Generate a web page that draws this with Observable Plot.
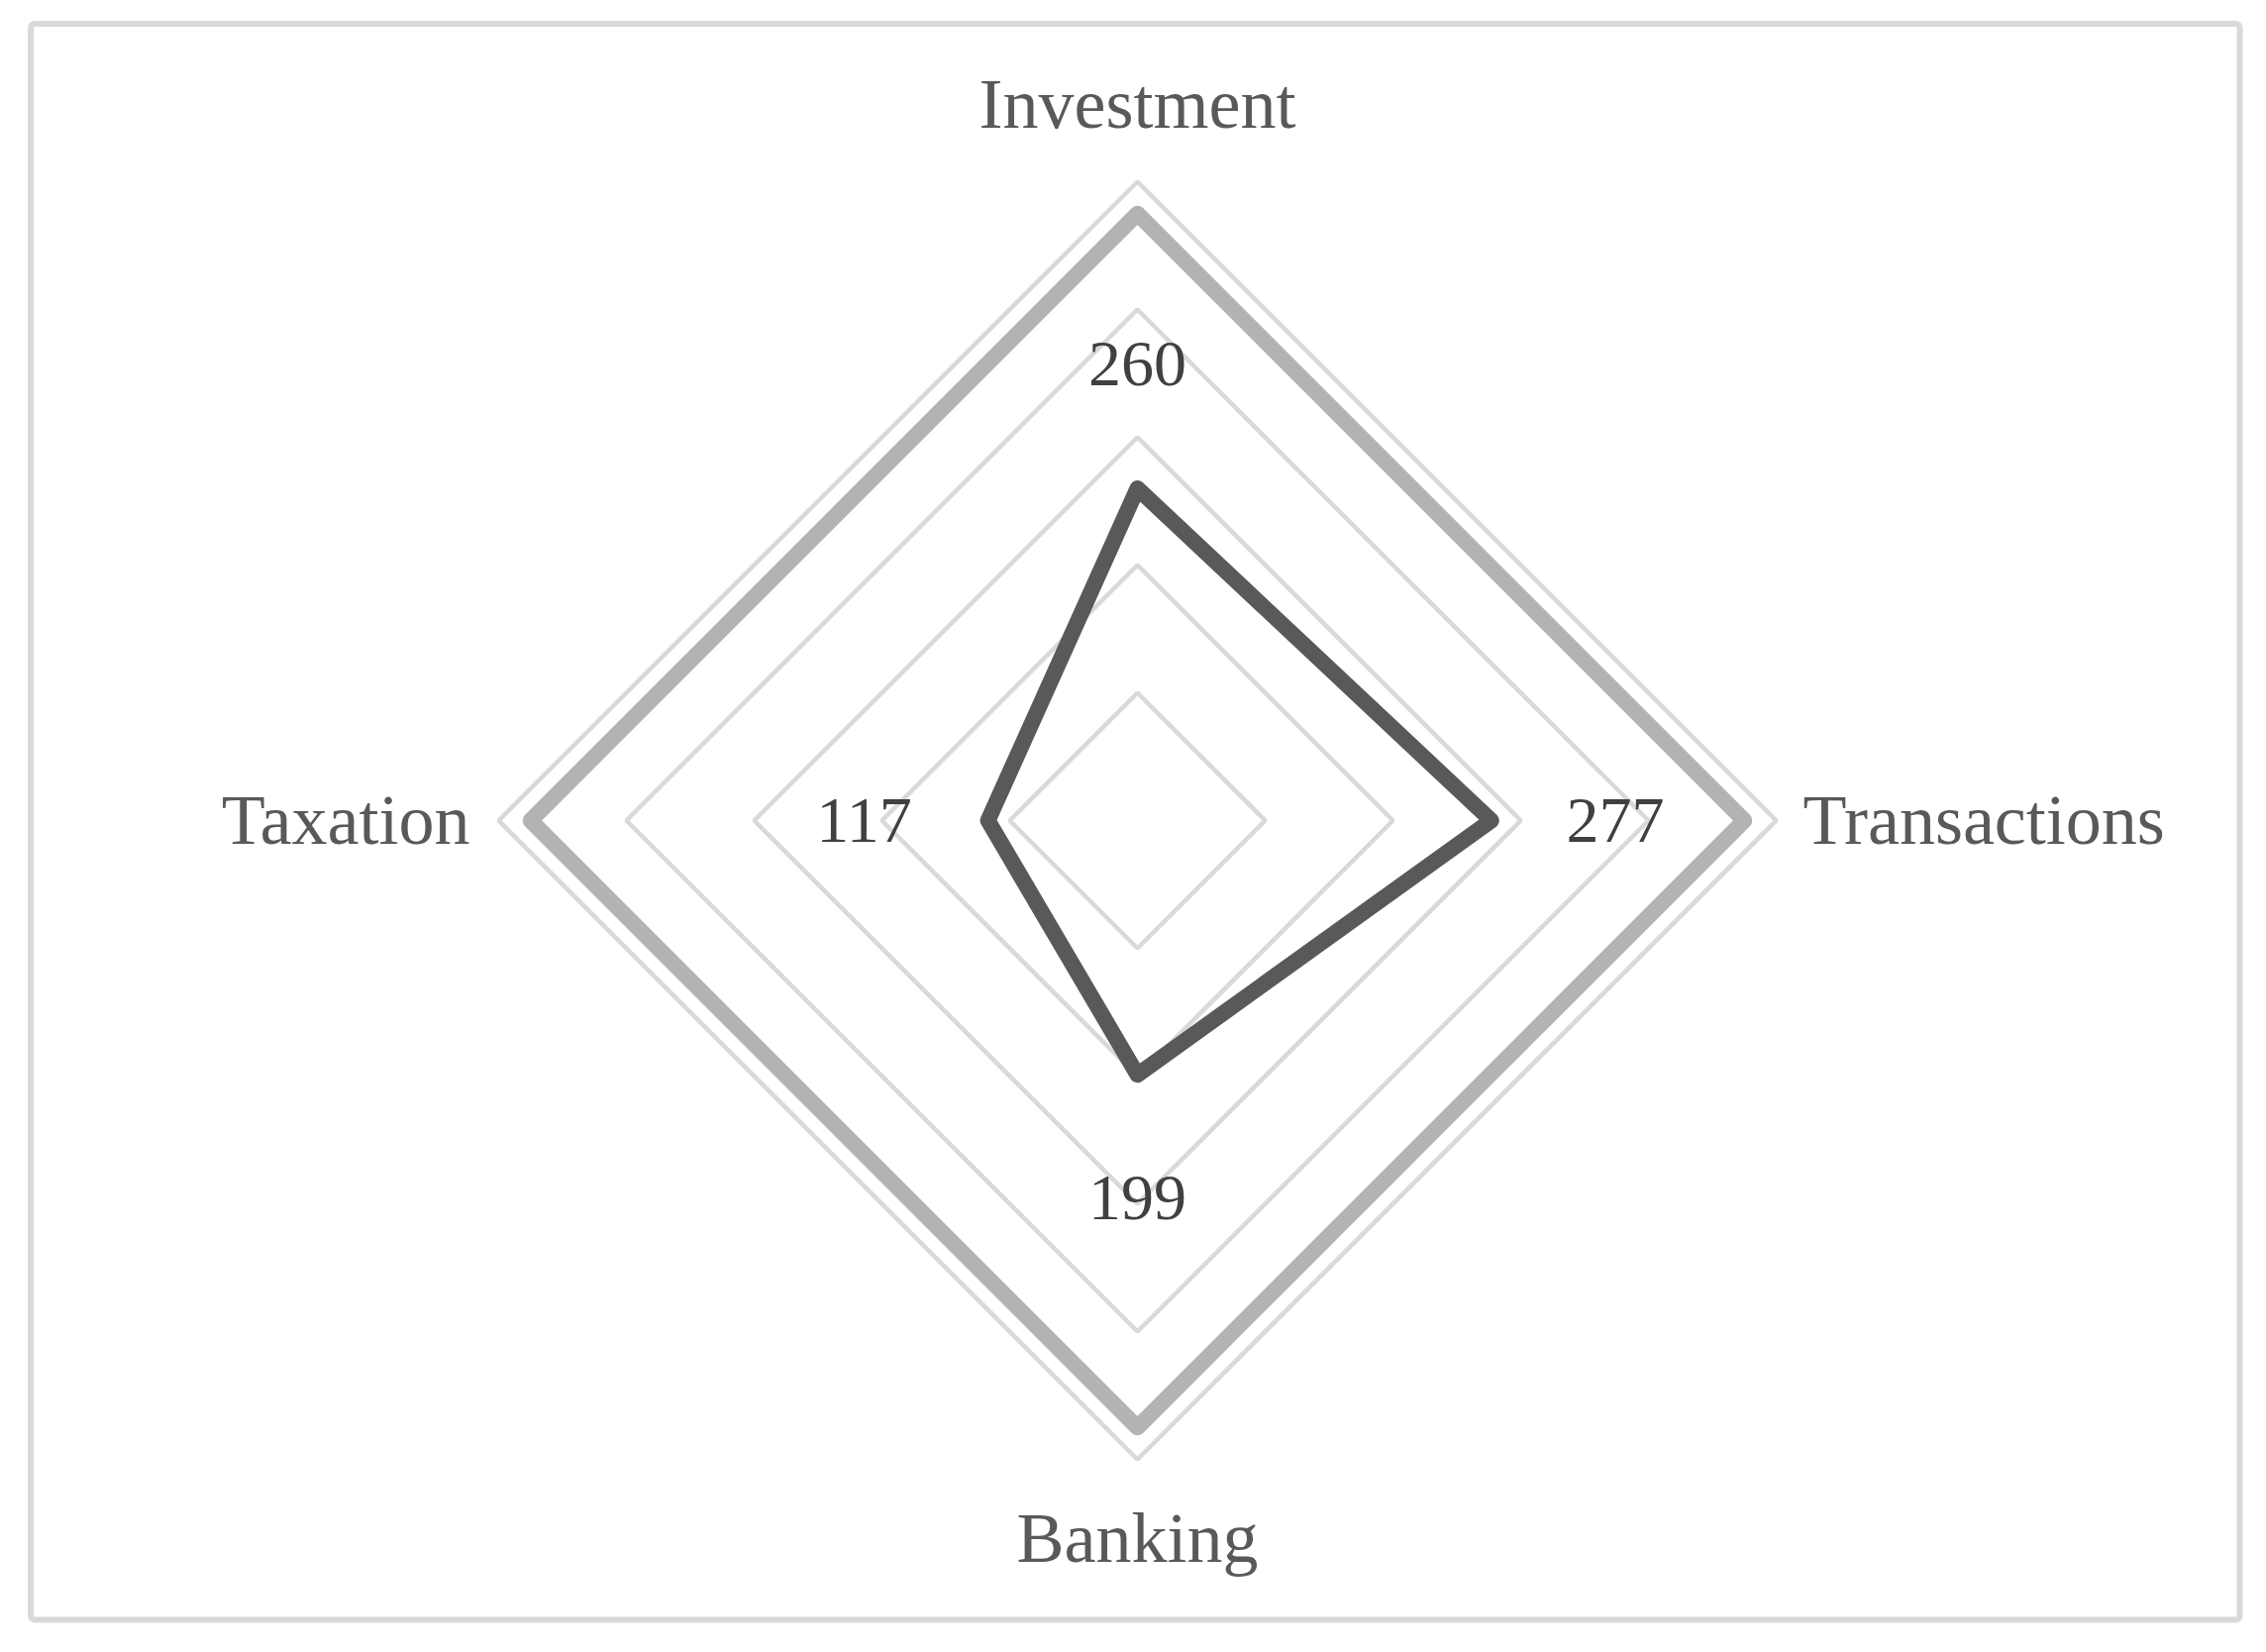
<!DOCTYPE html>
<html><head><meta charset="utf-8">
<script src="https://cdn.jsdelivr.net/npm/d3@7"></script>
<script src="https://cdn.jsdelivr.net/npm/@observablehq/plot@0.6"></script>
<style>html,body{margin:0;padding:0;background:#fff;}</style>
</head><body><div id="chart"></div>
<script>
const categories = ["Investment", "Transactions", "Banking", "Taxation"];
const values = [260, 277, 199, 117];
const outline = [475, 475, 475, 475];
const gridLevels = [100, 200, 300, 400, 500];

const W = 2288, H = 1668;
const cx = 1148, cy = 828, R = 645, maxV = 500;
const unitsPerPx = maxV / R;
const labelOffset = 97;
const angle = i => i * 2 * Math.PI / categories.length;
const pt = (r, i) => ({x: r * Math.sin(angle(i)), y: r * Math.cos(angle(i))});

const gridRows = gridLevels.flatMap(level => categories.map((c, i) => ({level, category: c, ...pt(level, i)})));
const outlineRows = categories.map((c, i) => ({category: c, ...pt(outline[i], i)}));
const valueRows = categories.map((c, i) => ({category: c, value: values[i], ...pt(values[i], i)}));
const valueLabelRows = categories.map((c, i) => ({category: c, value: values[i], ...pt(values[i] + labelOffset, i)}));

const textAnchors = ["middle", "start", "middle", "end"];
const lineAnchors = ["bottom", "middle", "top", "middle"];
const labelPx = [700, 672, 697, 674];

const catMarks = categories.map((c, i) => Plot.text([{category: c, ...pt(labelPx[i] * unitsPerPx, i)}], {
  x: "x", y: "y", text: "category",
  textAnchor: textAnchors[i], lineAnchor: lineAnchors[i],
  fontSize: 72, fill: "#595959"
}));

const chart = Plot.plot({
  width: W, height: H,
  marginLeft: 30.5, marginRight: 27, marginTop: 23.5, marginBottom: 33,
  x: {domain: [-maxV, maxV], range: [cx - R, cx + R], axis: null},
  y: {domain: [-maxV, maxV], range: [cy + R, cy - R], axis: null},
  style: {fontFamily: "'Liberation Serif', 'DejaVu Serif', serif", background: "#fff", overflow: "visible"},
  marks: [
    Plot.frame({stroke: "#d9d9d9", strokeWidth: 6, rx: 4}),
    Plot.line(gridRows, {x: "x", y: "y", z: "level", curve: "linear-closed", stroke: "#d9d9d9", strokeWidth: 4.5, strokeLinejoin: "miter"}),
    Plot.line(outlineRows, {x: "x", y: "y", curve: "linear-closed", stroke: "#b3b3b3", strokeWidth: 16, strokeLinejoin: "round"}),
    Plot.line(valueRows, {x: "x", y: "y", curve: "linear-closed", stroke: "#595959", strokeWidth: 16, strokeLinejoin: "round"}),
    Plot.text(valueLabelRows, {x: "x", y: "y", text: d => String(d.value), lineAnchor: "middle", textAnchor: "middle", fontSize: 66, fill: "#404040"}),
    ...catMarks
  ]
});
document.getElementById("chart").appendChild(chart);
</script>
</body></html>
